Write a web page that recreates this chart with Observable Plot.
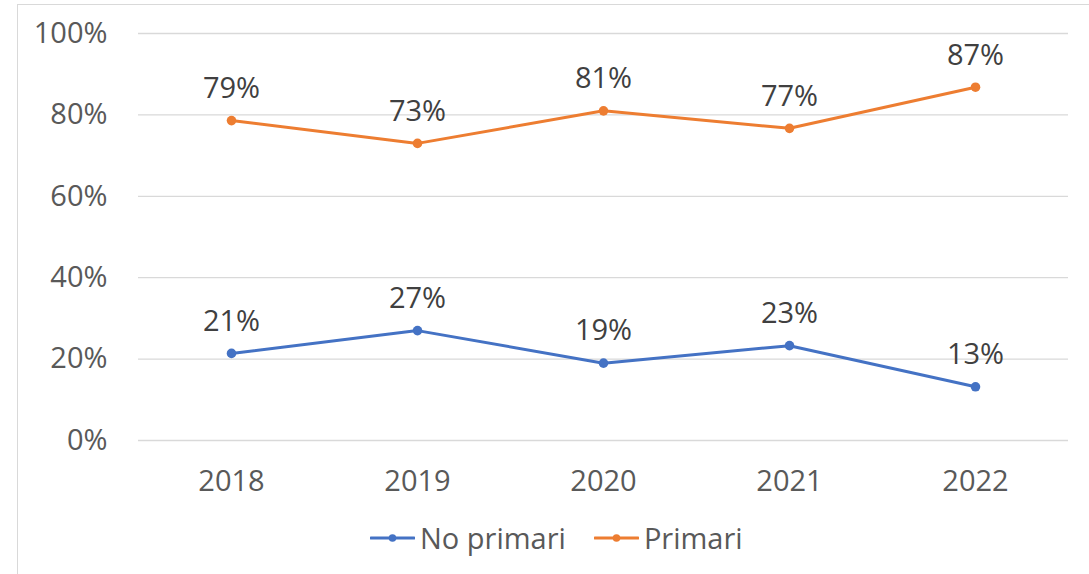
<!DOCTYPE html>
<html>
<head>
<meta charset="utf-8">
<script src="https://cdn.jsdelivr.net/npm/d3@7"></script>
<script src="https://cdn.jsdelivr.net/npm/@observablehq/plot@0.6"></script>
<style>
  html, body { margin: 0; padding: 0; background: #fff; }
  #wrap { position: relative; width: 1089px; height: 574px; overflow: hidden; font-family: "Open Sans", sans-serif; }
  #frame { position: absolute; left: 17px; top: 4px; width: 1200px; height: 700px; border: 1px solid #d9d9d9; box-sizing: border-box; }
  #chart { position: absolute; left: 0; top: 0; }
  #legend { position: absolute; left: 370px; top: 518px; display: flex; align-items: center; font-size: 29px; color: #595959; white-space: nowrap; }
  .item { display: flex; align-items: center; margin-right: 28px; }
  .item svg { margin-right: 5px; }
</style>
</head>
<body>
<div id="wrap">
  <div id="frame"></div>
  <div id="chart"></div>
  <div id="legend"></div>
</div>
<script>
const years = ["2018", "2019", "2020", "2021", "2022"];
const seriesNames = ["No primari", "Primari"];
const noPrimari = [21.4, 27.0, 19.0, 23.3, 13.2];
const primari = [78.6, 73.0, 81.0, 76.7, 86.8];
const labelsNoPrimari = ["21%", "27%", "19%", "23%", "13%"];
const labelsPrimari = ["79%", "73%", "81%", "77%", "87%"];
const yTicks = [0, 20, 40, 60, 80, 100];
const colors = ["#4472C4", "#ED7D31"];

const data = [];
years.forEach((y, i) => {
  data.push({year: y, series: seriesNames[0], value: noPrimari[i], label: labelsNoPrimari[i]});
  data.push({year: y, series: seriesNames[1], value: primari[i], label: labelsPrimari[i]});
});

const chart = Plot.plot({
  width: 1089,
  height: 505,
  marginTop: 33,
  marginBottom: 65,
  marginLeft: 138,
  marginRight: 21,
  style: {fontFamily: "'Open Sans', sans-serif", fontSize: "29px", color: "#595959", background: "transparent", overflow: "visible"},
  x: {type: "point", domain: years, padding: 0.5, label: null},
  y: {domain: [0, 100], label: null},
  color: {domain: seriesNames, range: colors},
  marks: [
    Plot.ruleY(yTicks, {stroke: "#d9d9d9", strokeWidth: 1.3, strokeOpacity: 1}),
    Plot.axisY({ticks: yTicks, tickSize: 0, tickPadding: 31, tickFormat: d => d + "%", fill: "#595959", fontSize: 29}),
    Plot.axisX({tickSize: 0, tickPadding: 30, fill: "#595959", fontSize: 29}),
    Plot.line(data, {x: "year", y: "value", z: "series", stroke: "series", strokeWidth: 3, curve: "linear"}),
    Plot.dot(data, {x: "year", y: "value", fill: "series", r: 4.8, stroke: null}),
    Plot.text(data, {x: "year", y: "value", text: "label", dy: -32, fill: "#404040", fontSize: 29})
  ]
});
document.getElementById("chart").appendChild(chart);

const legend = document.getElementById("legend");
seriesNames.forEach((name, i) => {
  const item = document.createElement("div");
  item.className = "item";
  item.innerHTML = `<svg width="45" height="12"><line x1="1" x2="44" y1="6" y2="6" stroke="${colors[i]}" stroke-width="3.2" stroke-linecap="round"/><circle cx="22.5" cy="6" r="3.8" fill="${colors[i]}"/></svg><span>${name}</span>`;
  legend.appendChild(item);
});
</script>
</body>
</html>
